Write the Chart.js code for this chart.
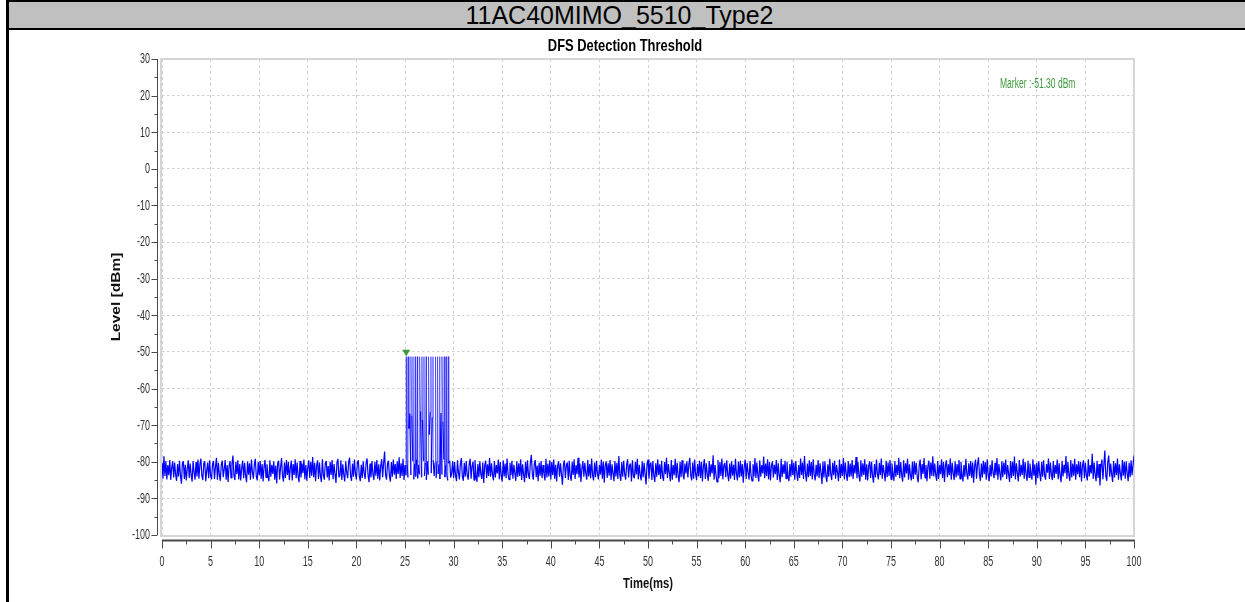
<!DOCTYPE html>
<html>
<head>
<meta charset="utf-8">
<script src="https://cdn.jsdelivr.net/npm/chart.js@4.4.1/dist/chart.umd.min.js"></script>
<style>
  html, body { margin: 0; padding: 0; background: #fff; width: 1245px; height: 602px; overflow: hidden; position: relative; }
  canvas { position: absolute; left: 0; top: 0; }
  #header { position: absolute; left: 6px; top: 0; width: 1239px; height: 26px; background: #c0c0c0;
            border-top: 2px solid #000; border-bottom: 2px solid #000; }
  #header span { position: absolute; left: 0; width: 1227px; top: 0; text-align: center;
                 font-family: 'Liberation Sans', Arial, sans-serif; font-size: 25px; line-height: 27px; color: #000; }
  #leftRule { position: absolute; left: 6px; top: 0; width: 3px; height: 602px; background: #000; }
</style>
</head>
<body>
<canvas id="chart" width="1245" height="602"></canvas>
<div id="header"><span>11AC40MIMO_5510_Type2</span></div>
<div id="leftRule"></div>
<script>
// Measured level trace, sampled every 0.1 ms from 0 to 100 ms (dBm)
const sampleStart = 0;
const sampleStep = 0.1;
const levels = [
  -80.4,-84.6,-78.5,-83.9,-79.8,-84.8,-80.9,-83.7,-79.5,-85.0,-81.6,-79.9,-84.3,-80.2,-83.5,-85.2,-80.6,-84.1,-79.7,-83.8,
  -86.0,-80.3,-79.9,-84.7,-80.8,-85.1,-81.9,-79.6,-84.4,-80.5,-83.6,-85.4,-79.8,-82.9,-84.9,-80.1,-84.0,-79.4,-84.6,-80.7,
  -79.1,-83.8,-85.0,-80.4,-79.9,-85.3,-82.5,-80.2,-84.5,-79.6,-83.9,-84.8,-80.6,-79.8,-84.7,-81.4,-78.9,-84.9,-80.3,-83.6,
  -85.2,-80.7,-79.7,-84.2,-82.0,-79.5,-84.9,-80.9,-85.5,-81.2,-79.8,-84.4,-80.5,-78.3,-83.7,-85.0,-80.0,-83.4,-79.6,-84.8,
  -80.6,-85.1,-81.7,-79.7,-84.5,-80.3,-83.8,-85.6,-79.9,-83.5,-80.4,-84.9,-79.4,-82.8,-84.6,-80.8,-79.2,-84.0,-85.1,-80.1,
  -83.7,-79.8,-84.6,-80.6,-85.4,-81.3,-79.5,-84.3,-80.7,-83.9,-85.3,-79.6,-84.1,-80.8,-83.3,-79.9,-84.9,-81.0,-85.9,-80.4,
  -79.7,-84.8,-81.5,-79.0,-84.0,-85.4,-80.2,-84.4,-79.5,-83.6,-80.1,-85.0,-81.8,-79.7,-85.1,-80.6,-83.6,-79.3,-84.5,-80.2,
  -83.9,-85.6,-79.8,-84.3,-80.5,-83.1,-79.4,-84.8,-80.9,-85.2,-81.5,-79.6,-84.4,-80.0,-83.8,-78.7,-84.2,-80.3,-85.3,-81.1,
  -79.6,-84.7,-80.2,-84.0,-85.5,-79.3,-83.6,-84.9,-80.4,-79.8,-84.3,-81.2,-85.1,-80.0,-83.6,-79.5,-84.8,-80.6,-83.4,-85.8,
  -80.2,-79.2,-84.2,-83.8,-79.6,-85.0,-80.7,-83.5,-85.4,-79.9,-82.9,-84.5,-80.1,-78.9,-83.9,-85.2,-80.5,-84.1,-79.4,-83.3,
  -84.8,-80.3,-79.6,-84.0,-85.3,-80.8,-84.4,-79.9,-83.2,-84.7,-80.2,-79.1,-83.7,-85.6,-80.5,-84.3,-79.8,-83.4,-85.0,-80.0,
  -83.8,-79.5,-84.6,-80.7,-85.1,-81.1,-79.3,-84.2,-80.4,-77.2,-83.6,-84.9,-80.5,-79.7,-84.0,-85.4,-80.1,-84.1,-79.4,-83.5,
  -80.6,-84.7,-79.9,-83.3,-78.8,-84.4,-80.4,-83.9,-79.2,-85.0,-80.9,-83.7,-79.6,-84.3,-70.9,-66.8,-83.6,-67.4,-79.8,-84.8,
  -80.5,-84.0,-79.3,-84.5,-80.8,-83.4,-66.2,-84.2,-68.5,-79.7,-83.8,-80.3,-84.9,-79.9,-83.5,-72.6,-66.5,-83.1,-67.9,-79.5,
  -83.9,-80.2,-84.4,-79.9,-83.3,-80.7,-84.7,-66.7,-83.5,-69.0,-79.4,-84.2,-80.9,-83.6,-85.1,-80.4,-79.7,-84.3,-83.2,-79.9,
  -84.5,-80.1,-83.8,-85.3,-79.6,-83.1,-84.8,-80.5,-79.0,-84.0,-85.2,-80.3,-84.1,-79.8,-83.5,-84.9,-80.8,-79.2,-84.6,-81.2,
  -80.0,-85.0,-79.5,-83.7,-85.5,-80.6,-84.2,-79.9,-83.4,-84.7,-80.2,-85.8,-81.0,-79.7,-84.4,-80.7,-83.9,-79.0,-84.1,-80.4,
  -83.6,-85.1,-79.8,-84.3,-80.9,-83.2,-79.4,-84.8,-80.1,-83.8,-85.4,-79.6,-84.0,-80.5,-84.5,-79.1,-83.3,-84.9,-80.3,-83.7,
  -79.7,-84.6,-80.8,-83.1,-85.2,-79.9,-84.1,-80.4,-83.9,-79.3,-85.0,-80.7,-83.5,-85.6,-80.0,-84.4,-79.6,-83.6,-84.7,-80.2,
  -78.1,-83.4,-84.9,-80.6,-79.5,-84.2,-81.0,-85.3,-80.3,-83.8,-79.8,-84.5,-80.9,-83.3,-85.1,-79.2,-84.3,-80.5,-84.0,-79.6,
  -84.8,-80.1,-83.7,-79.4,-84.6,-80.8,-85.4,-81.1,-79.9,-84.1,-80.4,-83.5,-86.3,-80.7,-79.6,-84.4,-81.0,-80.2,-85.0,-79.7,
  -83.9,-85.2,-80.0,-83.6,-79.3,-84.7,-80.9,-83.4,-78.9,-84.3,-80.5,-85.5,-81.8,-79.8,-84.1,-80.3,-83.2,-84.9,-79.5,-84.0,
  -80.6,-84.5,-79.1,-83.7,-85.1,-80.2,-84.2,-79.7,-83.3,-84.8,-80.8,-83.5,-79.4,-84.6,-80.0,-85.7,-81.0,-79.9,-84.4,-80.4,
  -83.8,-79.5,-85.0,-80.7,-83.2,-85.3,-79.8,-84.0,-80.3,-84.7,-78.4,-83.6,-85.2,-80.1,-84.1,-79.7,-83.4,-84.9,-80.9,-79.3,
  -84.3,-81.0,-80.5,-85.4,-79.6,-83.9,-84.5,-80.0,-83.5,-79.2,-84.8,-80.8,-83.7,-85.1,-79.9,-84.2,-80.3,-83.3,-86.2,-80.6,
  -79.4,-84.6,-81.1,-80.2,-85.0,-79.8,-83.8,-85.5,-80.4,-84.1,-79.3,-83.6,-80.7,-84.7,-79.7,-84.0,-85.2,-80.1,-83.4,-78.9,
  -84.4,-80.6,-83.1,-85.3,-79.5,-84.9,-80.9,-83.7,-79.2,-84.5,-80.3,-83.9,-85.6,-80.0,-84.2,-79.6,-83.5,-84.8,-80.5,-83.2,
  -79.9,-84.3,-80.8,-78.9,-83.8,-85.1,-80.2,-84.6,-79.4,-83.4,-85.0,-80.6,-84.0,-79.7,-84.4,-80.0,-85.4,-81.2,-79.3,-84.7,
  -80.4,-83.6,-85.2,-79.8,-84.1,-80.7,-83.2,-78.2,-84.9,-80.9,-83.7,-85.5,-79.5,-84.5,-80.1,-83.9,-79.1,-84.8,-81.0,-80.3,
  -84.2,-79.6,-83.5,-85.3,-80.5,-84.6,-79.9,-83.8,-80.8,-85.0,-79.2,-83.3,-85.1,-80.0,-84.3,-79.7,-84.0,-80.6,-85.7,-81.3,
  -79.4,-84.7,-80.3,-83.1,-84.9,-79.8,-83.6,-85.2,-80.7,-84.0,-79.0,-84.4,-80.2,-83.7,-85.4,-79.6,-84.1,-80.9,-83.2,-78.6,
  -84.5,-80.5,-83.9,-79.3,-84.8,-80.1,-85.1,-81.1,-79.9,-84.3,-80.8,-83.4,-79.5,-85.0,-80.4,-83.8,-85.6,-79.2,-84.2,-80.7,
  -83.3,-79.7,-84.6,-80.0,-84.0,-85.3,-80.6,-84.1,-79.4,-83.7,-80.3,-84.9,-79.8,-83.0,-85.2,-80.9,-84.4,-79.1,-83.6,-80.2,
  -84.7,-78.4,-83.2,-85.4,-80.5,-84.2,-79.6,-83.9,-80.1,-84.8,-79.3,-83.5,-85.1,-80.8,-84.0,-79.5,-84.5,-80.4,-83.1,-86.1,
  -80.0,-84.3,-79.9,-83.8,-85.5,-80.7,-84.1,-79.2,-83.4,-85.0,-80.3,-83.7,-79.7,-84.6,-80.9,-83.0,-85.3,-79.4,-84.4,-80.6,
  -83.9,-79.0,-84.8,-80.2,-83.5,-85.2,-79.8,-84.2,-80.5,-84.0,-79.5,-84.7,-80.8,-83.2,-78.7,-84.5,-80.1,-83.8,-85.4,-79.6,
  -84.1,-80.4,-83.6,-79.3,-84.9,-80.7,-85.1,-81.2,-79.9,-84.4,-80.0,-83.9,-85.7,-80.6,-84.3,-79.4,-83.3,-84.8,-80.3,-83.7,
  -79.1,-84.6,-80.9,-83.0,-85.3,-79.7,-84.2,-80.2,-83.9,-79.5,-84.8,-80.5,-83.4,-85.2,-79.8,-84.1,-80.8,-83.6,-78.9,-84.5,
  -80.1,-83.7,-85.4,-79.6,-84.3,-80.4,-83.2,-79.2,-84.9,-80.7,-83.8,-85.1,-80.0,-84.7,-79.9,-83.5,-80.3,-84.2,-85.6,-81.0,
  -79.4,-84.8,-80.6,-83.3,-79.0,-84.4,-80.9,-85.3,-81.1,-79.7,-84.6,-80.2,-83.9,-78.5,-84.0,-80.5,-83.6,-85.2,-79.8,-84.7,
  -80.8,-83.4,-79.3,-84.5,-80.1,-85.5,-81.0,-79.6,-84.2,-80.7,-83.7,-79.1,-84.9,-80.3,-83.2,-85.0,-79.9,-84.3,-80.6,-83.8,
  -79.5,-84.7,-80.0,-83.5,-85.4,-80.9,-84.1,-79.2,-83.3,-84.8,-80.4,-83.9,-79.8,-84.4,-80.2,-85.7,-81.1,-79.4,-84.6,-80.7,
  -78.8,-83.6,-85.2,-80.5,-84.3,-79.7,-83.4,-80.1,-84.9,-79.3,-83.8,-85.3,-80.8,-84.0,-79.6,-83.1,-84.5,-80.3,-83.7,-79.0,
  -84.9,-80.6,-83.2,-85.1,-79.9,-84.2,-80.2,-83.5,-79.4,-84.7,-80.9,-83.3,-85.5,-79.8,-84.4,-80.0,-83.9,-78.6,-84.8,-80.4,
  -83.1,-85.4,-79.5,-84.0,-80.8,-83.6,-79.2,-84.6,-80.1,-83.4,-85.2,-79.7,-84.3,-80.5,-83.0,-84.9,-79.3,-83.8,-80.7,-86.3,
  -80.3,-84.5,-79.9,-83.2,-85.3,-80.0,-84.1,-79.6,-83.7,-84.9,-80.6,-83.0,-79.1,-84.7,-80.2,-83.5,-85.0,-79.8,-84.4,-80.9,
  -83.3,-79.4,-84.8,-80.4,-83.9,-85.6,-79.7,-84.0,-80.8,-83.1,-78.4,-84.6,-80.1,-83.6,-85.2,-79.5,-84.3,-80.5,-83.8,-79.2,
  -84.9,-80.7,-83.4,-79.9,-84.2,-80.0,-85.4,-81.0,-79.6,-84.5,-80.3,-83.7,-85.1,-79.3,-84.0,-80.9,-83.2,-77.8,-84.7,-80.2,
  -83.5,-85.3,-79.7,-84.4,-80.6,-86.5,-81.1,-79.4,-84.8,-80.8,-76.9,-83.9,-85.2,-80.1,-78.3,-84.1,-80.5,-83.4,-85.5,-79.8,
  -84.3,-80.4,-83.6,-79.1,-84.9,-80.7,-83.3,-85.1,-79.5,-83.8,-80.0,-84.6,-79.9,-83.2,-85.3,-80.3,-84.2,-79.6,-83.7,-80.9,
  -78.3
];

// Radar burst (Type 2): pulse arrival times (ms) and peak levels (dBm)
const pulseTimes = [25.13, 25.36, 25.61, 25.82, 26.05, 26.29, 26.50, 26.74, 26.95, 27.19,
                     27.42, 27.67, 27.88, 28.14, 28.35, 28.55, 28.80, 29.03, 29.24, 29.48];
const pulseLevels = [-51.3, -51.3, -51.3, -51.3, -51.3, -51.3, -51.3, -51.3, -51.3, -51.3,
                     -51.3, -51.3, -51.3, -51.3, -51.3, -51.3, -51.3, -51.3, -51.3, -51.3];

// Peak marker
const markerTime = 25.13;
const markerLevel = -51.30;

// Axis ticks
const xTickValues = [0, 5, 10, 15, 20, 25, 30, 35, 40, 45, 50, 55, 60, 65, 70, 75, 80, 85, 90, 95, 100];
const yTickValues = [30, 20, 10, 0, -10, -20, -30, -40, -50, -60, -70, -80, -90, -100];

// Merge the sampled floor and the pulse peaks into one time-ordered trace
const trace = levels.map((v, i) => ({ x: +(sampleStart + i * sampleStep).toFixed(2), y: v, pulse: false }));
pulseTimes.forEach((t, i) => trace.push({ x: t, y: pulseLevels[i], pulse: true }));
trace.sort((a, b) => a.x - b.x);

const FONT = "'Liberation Sans', Arial, sans-serif";
const AXIS_COLOR = '#4a4a4a';
const LABEL_COLOR = '#333333';
const TRACE_COLOR = '#0000ff';
const PULSE_COLOR = 'rgba(40, 40, 255, 0.62)';

// Text with a horizontal squeeze (the plot uses a narrow type style)
function narrowText(ctx, text, x, y, opts) {
  ctx.save();
  ctx.translate(x, y);
  ctx.scale(opts.sx, 1);
  if (opts.vertical) ctx.rotate(-Math.PI / 2);
  ctx.font = opts.font;
  ctx.fillStyle = opts.color;
  ctx.textAlign = opts.align || 'center';
  ctx.textBaseline = opts.baseline || 'middle';
  ctx.fillText(text, 0, 0);
  ctx.restore();
}

function midpoints(vals) {
  const out = [];
  for (let i = 0; i < vals.length - 1; i++) out.push((vals[i] + vals[i + 1]) / 2);
  return out;
}

function isPulseSegment(seg) {
  return seg.p0.raw && seg.p1.raw && (seg.p0.raw.pulse || seg.p1.raw.pulse);
}

const decor = {
  id: 'decor',
  beforeDatasetsDraw(chart) {
    const { ctx, chartArea: a } = chart;
    ctx.save();
    ctx.strokeStyle = '#d6d6d6';
    ctx.lineWidth = 2;
    ctx.strokeRect(a.left - 1, a.top, a.right - a.left + 1, a.bottom - a.top + 1);
    ctx.restore();
  },
  afterDatasetsDraw(chart) {
    const { ctx } = chart;
    const xs = chart.scales.x, ys = chart.scales.y;
    const px = xs.getPixelForValue(markerTime);
    const py = ys.getPixelForValue(markerLevel);
    ctx.save();
    ctx.fillStyle = '#3f9a3f';
    ctx.beginPath();
    ctx.moveTo(px, py - 0.5);
    ctx.lineTo(px - 4, py - 7);
    ctx.lineTo(px + 4, py - 7);
    ctx.closePath();
    ctx.fill();
    ctx.restore();
  },
  afterDraw(chart) {
    const { ctx, chartArea: a } = chart;
    const xs = chart.scales.x, ys = chart.scales.y;
    const yAxisX = a.left - 4.5;
    const xAxisY = a.bottom + 5.5;

    ctx.save();
    ctx.strokeStyle = AXIS_COLOR;
    // vertical axis line and ticks
    ctx.lineWidth = 1;
    ctx.beginPath();
    ctx.moveTo(yAxisX, a.top);
    ctx.lineTo(yAxisX, a.bottom);
    yTickValues.forEach(v => {
      const y = Math.round(ys.getPixelForValue(v)) + 0.5;
      ctx.moveTo(yAxisX - 6, y); ctx.lineTo(yAxisX, y);
    });
    midpoints(yTickValues).forEach(v => {
      const y = Math.round(ys.getPixelForValue(v)) + 0.5;
      ctx.moveTo(yAxisX - 3, y); ctx.lineTo(yAxisX, y);
    });
    ctx.stroke();
    // horizontal axis line and ticks
    ctx.lineWidth = 2;
    ctx.beginPath();
    ctx.moveTo(a.left, xAxisY);
    ctx.lineTo(a.right + 1, xAxisY);
    ctx.stroke();
    ctx.lineWidth = 1;
    ctx.beginPath();
    xTickValues.forEach(v => {
      const x = Math.round(xs.getPixelForValue(v)) + 0.5;
      ctx.moveTo(x, xAxisY); ctx.lineTo(x, xAxisY + 8);
    });
    midpoints(xTickValues).forEach(v => {
      const x = Math.round(xs.getPixelForValue(v)) + 0.5;
      ctx.moveTo(x, xAxisY); ctx.lineTo(x, xAxisY + 4);
    });
    ctx.stroke();
    ctx.restore();

    // tick labels
    const tickFont = '14px ' + FONT;
    yTickValues.forEach(v => {
      narrowText(ctx, String(v), a.left - 12, ys.getPixelForValue(v) + 0.5,
        { sx: 0.64, font: tickFont, color: LABEL_COLOR, align: 'right' });
    });
    xTickValues.forEach(v => {
      narrowText(ctx, String(v), xs.getPixelForValue(v), a.bottom + 27,
        { sx: 0.64, font: tickFont, color: LABEL_COLOR });
    });

    // titles
    narrowText(ctx, 'DFS Detection Threshold', 625, 46,
      { sx: 0.76, font: 'bold 17px ' + FONT, color: '#000' });
    narrowText(ctx, 'Time(ms)', (a.left + a.right) / 2, 584,
      { sx: 0.75, font: 'bold 15px ' + FONT, color: '#111' });
    narrowText(ctx, 'Level [dBm]', 116, 297,
      { sx: 0.82, font: 'bold 15.5px ' + FONT, color: '#111', vertical: true });

    // marker readout
    narrowText(ctx, 'Marker :' + markerLevel.toFixed(2) + ' dBm', 1000, 84,
      { sx: 0.61, font: '14px ' + FONT, color: '#3f9a3f', align: 'left' });
  }
};

new Chart(document.getElementById('chart').getContext('2d'), {
  type: 'line',
  data: {
    datasets: [{
      label: 'Level',
      data: trace,
      borderColor: TRACE_COLOR,
      borderWidth: 1.2,
      borderJoinStyle: 'bevel',
      pointRadius: 0,
      tension: 0,
      fill: false,
      segment: {
        borderColor: seg => isPulseSegment(seg) ? PULSE_COLOR : TRACE_COLOR,
        borderWidth: seg => isPulseSegment(seg) ? 1 : 1.2
      }
    }]
  },
  options: {
    responsive: false,
    animation: false,
    devicePixelRatio: 1,
    layout: { padding: { left: 162, right: 111, top: 59, bottom: 67 } },
    plugins: { legend: { display: false }, tooltip: { enabled: false }, title: { display: false } },
    scales: {
      x: {
        type: 'linear', min: 0, max: 100,
        afterBuildTicks: s => { s.ticks = xTickValues.map(v => ({ value: v })); },
        afterFit: s => { s.height = 0; },
        ticks: { display: false },
        grid: { color: '#d0d0d0', lineWidth: 1, drawTicks: false },
        border: { display: false, dash: [3, 3] }
      },
      y: {
        type: 'linear', min: -100, max: 30,
        afterBuildTicks: s => { s.ticks = yTickValues.map(v => ({ value: v })); },
        afterFit: s => { s.width = 0; },
        ticks: { display: false },
        grid: { color: '#d0d0d0', lineWidth: 1, drawTicks: false },
        border: { display: false, dash: [2.5, 2.5] }
      }
    }
  },
  plugins: [decor]
});
</script>
</body>
</html>
